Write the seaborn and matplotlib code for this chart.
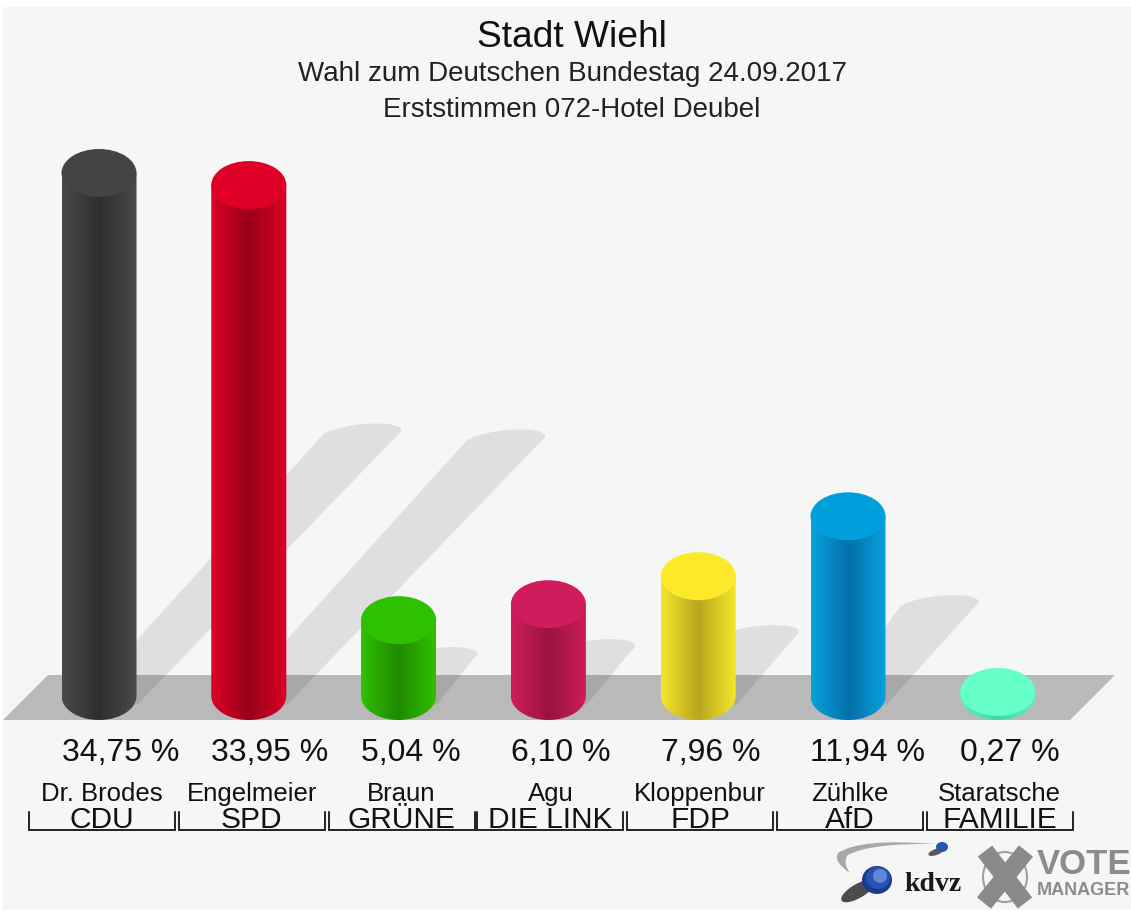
import numpy as np
import matplotlib
matplotlib.use('Agg')
import matplotlib.pyplot as plt
import seaborn as sns
from matplotlib.colors import LinearSegmentedColormap
from matplotlib.patches import Ellipse, Polygon, PathPatch, Rectangle
from matplotlib.path import Path

# Chart data
parties = ['CDU', 'SPD', 'GRÜNE', 'DIE LINK', 'FDP', 'AfD', 'FAMILIE']
candidates = ['Dr. Brodes', 'Engelmeier', 'Braun', 'Agu', 'Kloppenbur', 'Zühlke', 'Staratsche']
values = [34.75, 33.95, 5.04, 6.10, 7.96, 11.94, 0.27]
edge_colors = ['#4a4a4a', '#dc0028', '#30c000', '#d01c5c', '#f4e62a', '#08a2de', '#5cf0c0']
mid_colors = ['#2e2e2e', '#98001a', '#1f8a00', '#98143f', '#b8a61e', '#0570a8', '#40d8a8']
top_colors = ['#444444', '#de0026', '#2fc000', '#d01c5c', '#fbe92a', '#00a0dc', '#66ffc8']

title = 'Stadt Wiehl'
subtitle = 'Wahl zum Deutschen Bundestag 24.09.2017'
subtitle2 = 'Erststimmen 072-Hotel Deubel'

sns.set_theme(style='white')
plt.rcParams['font.family'] = ['Liberation Sans', 'DejaVu Sans']

W, H = 1131, 913
PITCH, UNIT, BASE = 149.8, 15.05, 696


# pixel position in the picture -> data position
def xd(px):
    return (px - 99) / PITCH


def yd(py):
    return (BASE - py) / UNIT


# round logo blob given in pixels, may be tilted
def blob(cx, cy, a, b, color, z, angle=0, alpha=1):
    s = np.linspace(0, 2 * np.pi, 60)
    r = np.radians(angle)
    px = cx + a * np.cos(s) * np.cos(r) - b * np.sin(s) * np.sin(r)
    py = cy + a * np.cos(s) * np.sin(r) + b * np.sin(s) * np.cos(r)
    ax.add_patch(Polygon(list(zip(xd(px), yd(py))), fc=color, ec='none', alpha=alpha, zorder=z))


fig = plt.figure(figsize=(W / 100, H / 100), dpi=100, facecolor='white')
ax = fig.add_axes([0, 0, 1, 1])
ax.patch.set_alpha(0)

sns.barplot(x=parties, y=values, hue=parties, palette=top_colors, width=75 / PITCH,
            legend=False, saturation=1, ax=ax, zorder=3)
bars = list(ax.patches)

ax.set_xlim(xd(0), xd(W))
ax.set_ylim(yd(H), yd(0))
ax.axis('off')

# Panel and floor
ax.add_patch(Rectangle((xd(3), yd(910)), xd(W) - xd(3), yd(7) - yd(910), fc='#f6f6f6', ec='none', zorder=0))
floor = [(3, 720), (48, 675), (1115, 675), (1070, 720)]
ax.add_patch(Polygon([(xd(a), yd(b)) for a, b in floor], fc='#b9b9b9', ec='none', zorder=0.5))

rx = 37.5 / PITCH
ry = 24 / UNIT
t = np.linspace(0, np.pi, 40)

for i, bar in enumerate(bars):
    cx = bar.get_x() + bar.get_width() / 2
    v = bar.get_height()

    # Shadow falling back and to the right
    if v > 1:
        tipx = cx + 0.5 * v * UNIT / PITCH
        tipy = 0.5 * v
        arc_x = tipx + rx * np.cos(t) + 16 / PITCH * np.sin(t)
        arc_y = tipy + 11 / UNIT * np.sin(t)
        shadow = list(zip(arc_x, arc_y)) + [(cx - 13 / PITCH, 0), (cx + 38 / PITCH, -9 / UNIT)]
        ax.add_patch(Polygon(shadow, fc='black', alpha=0.09, ec='none', zorder=1))

    # Cylinder body with the shading across it
    u = np.linspace(np.pi, 2 * np.pi, 40)
    outline = [(cx - rx, v)] + list(zip(cx + rx * np.cos(u), ry * np.sin(u))) + [(cx + rx, v)]
    body = Polygon(outline, closed=True, transform=ax.transData)
    cmap = LinearSegmentedColormap.from_list('c', [edge_colors[i], mid_colors[i], edge_colors[i]])
    im = ax.imshow(np.linspace(0, 1, 128)[None, :], extent=(cx - rx, cx + rx, -ry, v + ry),
                   aspect='auto', cmap=cmap, zorder=3.1)
    im.set_clip_path(body)
    bar.set_visible(False)

    ax.add_patch(Ellipse((cx, v), 2 * rx, 2 * ry, fc=top_colors[i], ec='none', zorder=3.2))

    # Labels under the cylinder
    label = f'{v:.2f}'.replace('.', ',') + ' %'
    ax.text(cx - rx, yd(753), label, fontsize=23, ha='left', va='center', color='#111111', zorder=5)
    bx = cx + 3 / PITCH if i < 3 else cx + 2 / PITCH
    ax.text(bx, yd(794), candidates[i], fontsize=18.5, ha='center', va='center', color='#111111', zorder=5)
    ax.text(bx, yd(820), parties[i], fontsize=21.5, ha='center', va='center', color='#111111', zorder=5)
    half = 73 / PITCH
    ax.plot([bx - half, bx - half, bx + half, bx + half], [yd(812), yd(830), yd(830), yd(812)],
            color='#222222', lw=1.4, zorder=5, solid_joinstyle='miter')

ax.set_xlim(xd(0), xd(W))
ax.set_ylim(yd(H), yd(0))

# Headings
ax.text(xd(572), yd(38), title, fontsize=26.7, ha='center', va='center', color='#111111', zorder=5)
ax.text(xd(572), yd(74), subtitle, fontsize=20, ha='center', va='center', color='#222222', zorder=5)
ax.text(xd(572), yd(110), subtitle2, fontsize=20, ha='center', va='center', color='#222222', zorder=5)

# kdvz logo
swoosh = [(935, 844), (860, 838), (838, 853), (833, 862), (850, 873), (842, 862), (848, 855), (870, 843), (935, 844)]
codes = [Path.MOVETO] + [Path.CURVE3] * 8
ax.add_patch(PathPatch(Path([(xd(a), yd(b)) for a, b in swoosh], codes), fc='#a8a8a8', ec='none', zorder=5))
blob(858, 891, 19, 7, '#222222', 5, angle=-30, alpha=0.8)
blob(877, 880, 15, 14, '#1a3a90', 5.1)
blob(878, 878, 12, 11, '#2a52b4', 5.2)
blob(880, 876, 7, 7, '#5f86d8', 5.3)
blob(936, 852, 8, 3, '#333333', 5, angle=-20, alpha=0.8)
blob(942, 847, 6, 5, '#2a55b0', 5.1)
ax.text(xd(904), yd(884), 'kdvz', fontsize=20, family='Liberation Serif', weight='bold', ha='left',
        va='center', color='#1a1a1a', zorder=5)

# Vote Manager logo
ax.add_patch(Ellipse((xd(1005), yd(877)), 44 / PITCH, 50 / UNIT, fc='none', ec='#a0a0a0', lw=1.5, zorder=5))
ax.plot([xd(985), xd(1025)], [yd(851), yd(903)], color='#8a8a8a', lw=13, solid_capstyle='butt', zorder=5.1)
ax.plot([xd(1026), xd(984)], [yd(851), yd(903)], color='#8a8a8a', lw=13, solid_capstyle='butt', zorder=5.1)
ax.text(xd(1037), yd(864), 'VOTE', fontsize=25, weight='bold', ha='left', va='center', color='#8c8c8c', zorder=5)
ax.text(xd(1037), yd(890), 'MANAGER', fontsize=13, weight='bold', ha='left', va='center', color='#8c8c8c', zorder=5)

fig.savefig('out.png', dpi=100)
